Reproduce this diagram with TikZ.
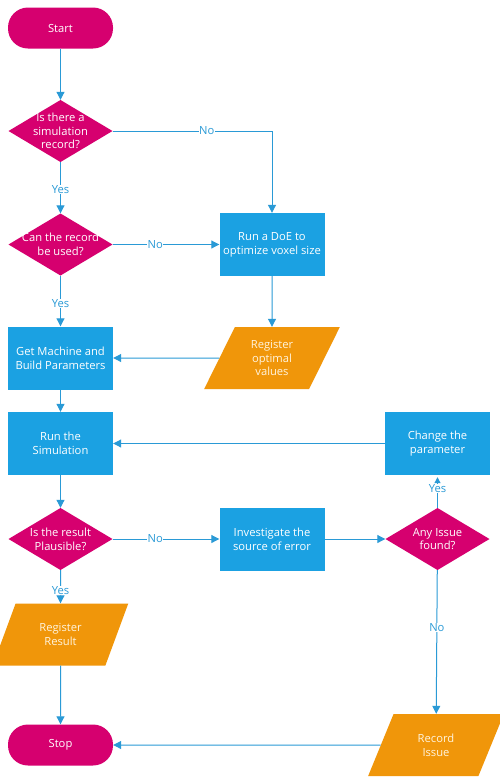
\documentclass[tikz,border=0pt]{standalone}
\usepackage{fontspec}
\setmainfont{Open Sans}
\usetikzlibrary{arrows.meta,shapes.geometric}
\definecolor{flowmag}{HTML}{D6006F}
\definecolor{flowblue}{HTML}{1BA1E2}
\definecolor{floworange}{HTML}{F0960A}
\definecolor{flowline}{HTML}{2A9AD6}
\definecolor{flowcream}{HTML}{FFF4DE}
\tikzset{
  base/.style={font=\fontsize{11.2}{13.8}\selectfont, align=center, inner sep=0pt},
  term/.style={base, fill=flowmag, text=white, rounded corners=20pt,
    minimum width=105pt, minimum height=41pt},
  proc/.style={base, fill=flowblue, text=white,
    minimum width=105pt, minimum height=63pt},
  decide/.style={base, text=white, minimum width=104pt, minimum height=62pt,
    path picture={\fill[flowmag] (path picture bounding box.north)
      -- (path picture bounding box.east) -- (path picture bounding box.south)
      -- (path picture bounding box.west) -- cycle;}},
  io/.style={base, trapezium, trapezium stretches=true, trapezium left angle=64,
    trapezium right angle=116, fill=floworange, text=flowcream,
    minimum width=136pt, minimum height=62pt},
  arr/.style={draw=flowline, line width=1pt, -{Triangle[length=8pt,width=8pt]}},
  lbl/.style={font=\fontsize{11.2}{13.8}\selectfont, text=flowline, fill=white,
    inner sep=0.5pt}
}
\begin{document}
\begin{tikzpicture}[x=1pt,y=-1pt]
\clip (0,0) rectangle (500,780);
\fill[white] (0,0) rectangle (500,780);

% left column
\node[term]   (start) at (60.5,28)    {Start};
\node[decide] (d1)    at (60.5,131)   {Is there a\\simulation\\record?};
\node[decide] (d2)    at (60.5,244.5) {Can the record\\be used?};
\node[proc]   (gm)    at (60.5,358)   {Get Machine and\\Build Parameters};
\node[proc]   (run)   at (60.5,443.5) {Run the\\Simulation};
\node[decide] (d3)    at (60.5,539)   {Is the result\\Plausible?};
\node[io]     (rr)    at (60.5,634.5) {Register\\Result};
\node[term]   (stop)  at (60.5,745)   {Stop};

% middle column
\node[proc]   (doe)   at (272,244.5)  {Run a DoE to\\optimize voxel size};
\node[io]     (rov)   at (272,358)    {Register\\optimal\\values};
\node[proc]   (inv)   at (272,539)    {Investigate the\\source of error};

% right column
\node[proc]   (chg)   at (437.5,443.5) {Change the\\parameter};
\node[decide] (d4)    at (437.5,539)   {Any Issue\\found?};
\node[io]     (ri)    at (436,745)     {Record\\Issue};

% connectors
\draw[arr] (start) -- (d1);
\draw[arr] (d1.east) -| node[lbl,pos=0.295] {No} (doe.north);
\draw[arr] (d1) -- node[lbl,pos=0.54] {Yes} (d2);
\draw[arr] (d2) -- node[lbl,pos=0.40] {No} (doe);
\draw[arr] (d2) -- node[lbl,pos=0.55] {Yes} (gm);
\draw[arr] (doe) -- (rov);
\draw[arr] (rov) -- (gm);
\draw[arr] (gm) -- (run);
\draw[arr] (chg) -- (run);
\draw[arr] (run) -- (d3);
\draw[arr] (d3) -- node[lbl,pos=0.40] {No} (inv);
\draw[arr] (inv) -- (d4);
\draw[draw=flowline, line width=1pt, -{Triangle[length=6pt,width=6pt]},
  shorten >=2pt] (d4) -- node[lbl,pos=0.6] {Yes} (chg);
\draw[arr] (d4) -- node[lbl,pos=0.40] {No} (ri);
\draw[arr] (d3) -- node[lbl,pos=0.6] {Yes} (rr);
\draw[arr] (rr) -- (stop);
\draw[arr] (ri) -- (stop);
\end{tikzpicture}
\end{document}
